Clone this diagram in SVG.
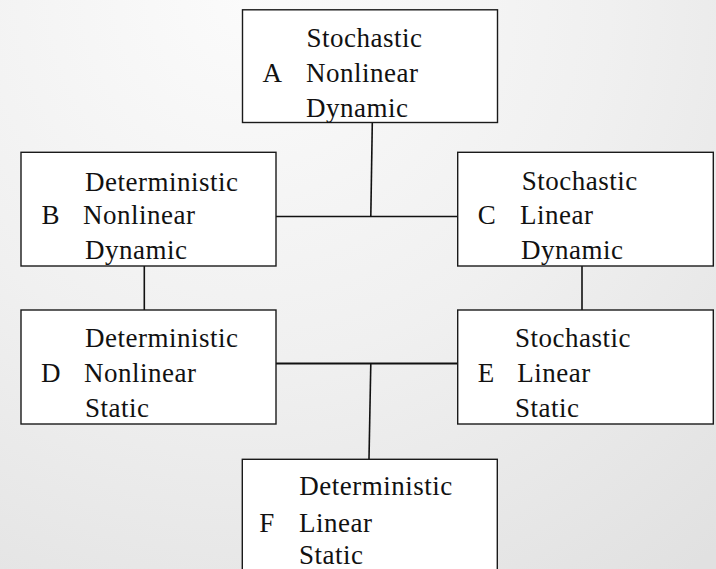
<svg xmlns="http://www.w3.org/2000/svg" width="716" height="569" viewBox="0 0 716 569">
<defs>
<radialGradient id="bg" cx="250" cy="0" r="720" gradientUnits="userSpaceOnUse">
<stop offset="0" stop-color="#fbfbfb"/>
<stop offset="0.5" stop-color="#f0f0f0"/>
<stop offset="1" stop-color="#e1e1e1"/>
</radialGradient>
<style>
.box{fill:#fff;stroke:#1a1a1a;stroke-width:1.4}
.t{font-family:'Liberation Serif', 'Times New Roman', serif;font-size:27px;fill:#111;letter-spacing:0.5px}
.c{stroke:#111;stroke-width:1.6;fill:none}
</style>
</defs>
<rect x="0" y="0" width="716" height="569" fill="url(#bg)"/>
<g id="connectors">
<line class="c" x1="372.3" y1="122.5" x2="370.8" y2="216.5"/>
<line class="c" x1="276" y1="216.5" x2="457.7" y2="216.5"/>
<line class="c" x1="144.3" y1="266" x2="144.3" y2="310"/>
<line class="c" x1="582" y1="266" x2="582" y2="310"/>
<line class="c" x1="276" y1="363.5" x2="457.7" y2="363.5" style="stroke-width:2.2"/>
<line class="c" x1="370.8" y1="363.5" x2="369" y2="459"/>
</g>
<g font-family="Liberation Serif, Times New Roman, serif">
<g id="A">
<rect class="box" x="242.5" y="9.8" width="255" height="112.7"/>
<text class="t" x="306.5" y="46.5">Stochastic</text>
<text class="t" x="262.5" y="82">A</text>
<text class="t" x="306" y="82">Nonlinear</text>
<text class="t" x="306" y="117">Dynamic</text>
</g>
<g id="B">
<rect class="box" x="21" y="152.3" width="255" height="113.7"/>
<text class="t" x="85" y="190.5">Deterministic</text>
<text class="t" x="41.5" y="224">B</text>
<text class="t" x="83" y="224">Nonlinear</text>
<text class="t" x="85" y="259">Dynamic</text>
</g>
<g id="C">
<rect class="box" x="457.7" y="152.3" width="255.6" height="113.7"/>
<text class="t" x="521.7" y="190">Stochastic</text>
<text class="t" x="477.7" y="224">C</text>
<text class="t" x="520" y="224">Linear</text>
<text class="t" x="521" y="259">Dynamic</text>
</g>
<g id="D">
<rect class="box" x="21" y="310" width="255" height="114"/>
<text class="t" x="85" y="347.3">Deterministic</text>
<text class="t" x="41" y="382">D</text>
<text class="t" x="84" y="382">Nonlinear</text>
<text class="t" x="85" y="417">Static</text>
</g>
<g id="E">
<rect class="box" x="457.7" y="310" width="255.6" height="114"/>
<text class="t" x="515" y="346.7">Stochastic</text>
<text class="t" x="477.7" y="382">E</text>
<text class="t" x="517.3" y="382">Linear</text>
<text class="t" x="515" y="417">Static</text>
</g>
<g id="F">
<rect class="box" x="242.3" y="459.3" width="255" height="130"/>
<text class="t" x="299.3" y="495">Deterministic</text>
<text class="t" x="259.3" y="531.5">F</text>
<text class="t" x="299" y="531.5">Linear</text>
<text class="t" x="299" y="564">Static</text>
</g>
</g>
</svg>
